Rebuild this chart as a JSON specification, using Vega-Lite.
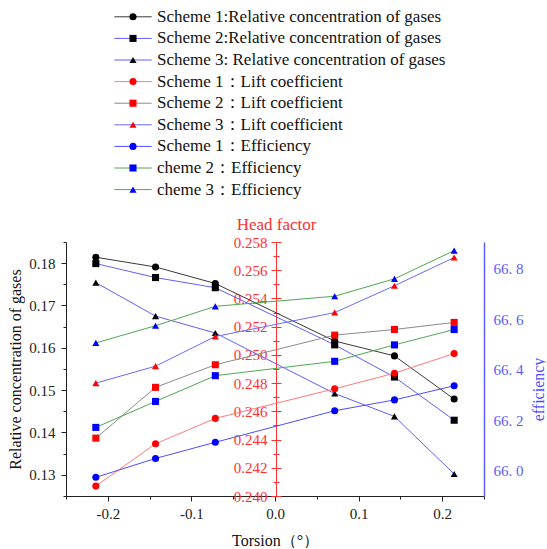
{
  "$schema": "https://vega.github.io/schema/vega-lite/v6.json",
  "padding": {"left": 7, "top": 6, "right": 0, "bottom": 0},
  "config": {
    "font": "Liberation Serif, Times New Roman, serif",
    "view": {"stroke": null},
    "text": {"font": "Liberation Serif, Times New Roman, serif"},
    "axis": {"labelFont": "Liberation Serif, Times New Roman, serif", "titleFont": "Liberation Serif, Times New Roman, serif", "labelFontSize": 15, "titleFontSize": 16, "titleFontWeight": "normal", "grid": false, "labelColor": "#222222", "titleColor": "#111111", "domainColor": "#222222", "tickColor": "#222222", "labelOverlap": false}
  },
  "datasets": {
    "legend": [
      {"series": "Scheme 1:Relative concentration of gases"},
      {"series": "Scheme 2:Relative concentration of gases"},
      {"series": "Scheme 3: Relative concentration of gases"},
      {"series": "Scheme 1：Lift coefficient"},
      {"series": "Scheme 2：Lift coefficient"},
      {"series": "Scheme 3：Lift coefficient"},
      {"series": "Scheme 1：Efficiency"},
      {"series": "cheme 2：Efficiency"},
      {"series": "cheme 3：Efficiency"}
    ],
    "pts": [
      {"series": "Scheme 1:Relative concentration of gases", "group": "gas", "t": -0.2143, "v": 0.1814},
      {"series": "Scheme 1:Relative concentration of gases", "group": "gas", "t": -0.1429, "v": 0.1791},
      {"series": "Scheme 1:Relative concentration of gases", "group": "gas", "t": -0.0714, "v": 0.1752},
      {"series": "Scheme 1:Relative concentration of gases", "group": "gas", "t": 0.0714, "v": 0.1616},
      {"series": "Scheme 1:Relative concentration of gases", "group": "gas", "t": 0.1429, "v": 0.1581},
      {"series": "Scheme 1:Relative concentration of gases", "group": "gas", "t": 0.2143, "v": 0.1479},
      {"series": "Scheme 2:Relative concentration of gases", "group": "gas", "t": -0.2143, "v": 0.1799},
      {"series": "Scheme 2:Relative concentration of gases", "group": "gas", "t": -0.1429, "v": 0.1766},
      {"series": "Scheme 2:Relative concentration of gases", "group": "gas", "t": -0.0714, "v": 0.1742},
      {"series": "Scheme 2:Relative concentration of gases", "group": "gas", "t": 0.0714, "v": 0.1607},
      {"series": "Scheme 2:Relative concentration of gases", "group": "gas", "t": 0.1429, "v": 0.1531},
      {"series": "Scheme 2:Relative concentration of gases", "group": "gas", "t": 0.2143, "v": 0.1429},
      {"series": "Scheme 3: Relative concentration of gases", "group": "gas", "t": -0.2143, "v": 0.1754},
      {"series": "Scheme 3: Relative concentration of gases", "group": "gas", "t": -0.1429, "v": 0.1675},
      {"series": "Scheme 3: Relative concentration of gases", "group": "gas", "t": -0.0714, "v": 0.1635},
      {"series": "Scheme 3: Relative concentration of gases", "group": "gas", "t": 0.0714, "v": 0.1492},
      {"series": "Scheme 3: Relative concentration of gases", "group": "gas", "t": 0.1429, "v": 0.1438},
      {"series": "Scheme 3: Relative concentration of gases", "group": "gas", "t": 0.2143, "v": 0.1302},
      {"series": "Scheme 1：Lift coefficient", "group": "lift", "t": -0.2143, "v": 0.2407},
      {"series": "Scheme 1：Lift coefficient", "group": "lift", "t": -0.1429, "v": 0.2437},
      {"series": "Scheme 1：Lift coefficient", "group": "lift", "t": -0.0714, "v": 0.2455},
      {"series": "Scheme 1：Lift coefficient", "group": "lift", "t": 0.0714, "v": 0.2476},
      {"series": "Scheme 1：Lift coefficient", "group": "lift", "t": 0.1429, "v": 0.2487},
      {"series": "Scheme 1：Lift coefficient", "group": "lift", "t": 0.2143, "v": 0.2501},
      {"series": "Scheme 2：Lift coefficient", "group": "lift", "t": -0.2143, "v": 0.2441},
      {"series": "Scheme 2：Lift coefficient", "group": "lift", "t": -0.1429, "v": 0.2477},
      {"series": "Scheme 2：Lift coefficient", "group": "lift", "t": -0.0714, "v": 0.2493},
      {"series": "Scheme 2：Lift coefficient", "group": "lift", "t": 0.0714, "v": 0.2514},
      {"series": "Scheme 2：Lift coefficient", "group": "lift", "t": 0.1429, "v": 0.2518},
      {"series": "Scheme 2：Lift coefficient", "group": "lift", "t": 0.2143, "v": 0.2523},
      {"series": "Scheme 3：Lift coefficient", "group": "lift", "t": -0.2143, "v": 0.2480},
      {"series": "Scheme 3：Lift coefficient", "group": "lift", "t": -0.1429, "v": 0.2492},
      {"series": "Scheme 3：Lift coefficient", "group": "lift", "t": -0.0714, "v": 0.2513},
      {"series": "Scheme 3：Lift coefficient", "group": "lift", "t": 0.0714, "v": 0.2530},
      {"series": "Scheme 3：Lift coefficient", "group": "lift", "t": 0.1429, "v": 0.2549},
      {"series": "Scheme 3：Lift coefficient", "group": "lift", "t": 0.2143, "v": 0.2569},
      {"series": "Scheme 1：Efficiency", "group": "eff", "t": -0.2143, "v": 65.974},
      {"series": "Scheme 1：Efficiency", "group": "eff", "t": -0.1429, "v": 66.049},
      {"series": "Scheme 1：Efficiency", "group": "eff", "t": -0.0714, "v": 66.113},
      {"series": "Scheme 1：Efficiency", "group": "eff", "t": 0.0714, "v": 66.238},
      {"series": "Scheme 1：Efficiency", "group": "eff", "t": 0.1429, "v": 66.281},
      {"series": "Scheme 1：Efficiency", "group": "eff", "t": 0.2143, "v": 66.337},
      {"series": "cheme 2：Efficiency", "group": "eff", "t": -0.2143, "v": 66.172},
      {"series": "cheme 2：Efficiency", "group": "eff", "t": -0.1429, "v": 66.275},
      {"series": "cheme 2：Efficiency", "group": "eff", "t": -0.0714, "v": 66.377},
      {"series": "cheme 2：Efficiency", "group": "eff", "t": 0.0714, "v": 66.434},
      {"series": "cheme 2：Efficiency", "group": "eff", "t": 0.1429, "v": 66.499},
      {"series": "cheme 2：Efficiency", "group": "eff", "t": 0.2143, "v": 66.560},
      {"series": "cheme 3：Efficiency", "group": "eff", "t": -0.2143, "v": 66.507},
      {"series": "cheme 3：Efficiency", "group": "eff", "t": -0.1429, "v": 66.575},
      {"series": "cheme 3：Efficiency", "group": "eff", "t": -0.0714, "v": 66.652},
      {"series": "cheme 3：Efficiency", "group": "eff", "t": 0.0714, "v": 66.692},
      {"series": "cheme 3：Efficiency", "group": "eff", "t": 0.1429, "v": 66.761},
      {"series": "cheme 3：Efficiency", "group": "eff", "t": 0.2143, "v": 66.873}
    ]
  },
  "spacing": 14,
  "vconcat": [
    {
      "width": 418,
      "height": 194.4,
      "data": {"name": "legend"},
      "encoding": {
        "y": {"field": "series", "type": "nominal", "sort": null, "axis": null, "scale": {"type": "point", "padding": 0.5}}
      },
      "layer": [
        {
          "mark": {"type": "rule", "strokeWidth": 1},
          "encoding": {
            "x": {"datum": 1.156, "type": "quantitative", "scale": {"domain": [0, 10], "nice": false, "zero": false}, "axis": null},
            "x2": {"datum": 2.05},
            "stroke": {"field": "series", "type": "nominal", "legend": null, "scale": {"domain": ["Scheme 1:Relative concentration of gases", "Scheme 2:Relative concentration of gases", "Scheme 3: Relative concentration of gases", "Scheme 1：Lift coefficient", "Scheme 2：Lift coefficient", "Scheme 3：Lift coefficient", "Scheme 1：Efficiency", "cheme 2：Efficiency", "cheme 3：Efficiency"], "range": ["#3a3a3a", "#5f5fff", "#5f5fff", "#ff7a7a", "#8a8a8a", "#6a6aff", "#4d4dff", "#50a850", "#50a850"]}}
          }
        },
        {
          "mark": {"type": "point", "filled": true, "size": 50, "opacity": 1, "strokeWidth": 0},
          "encoding": {
            "x": {"datum": 1.603, "type": "quantitative"},
            "fill": {"field": "series", "type": "nominal", "legend": null, "scale": {"domain": ["Scheme 1:Relative concentration of gases", "Scheme 2:Relative concentration of gases", "Scheme 3: Relative concentration of gases", "Scheme 1：Lift coefficient", "Scheme 2：Lift coefficient", "Scheme 3：Lift coefficient", "Scheme 1：Efficiency", "cheme 2：Efficiency", "cheme 3：Efficiency"], "range": ["#000000", "#000000", "#000000", "#ff0000", "#ff0000", "#ff0000", "#0000ff", "#0000ff", "#0000ff"]}},
            "shape": {"field": "series", "type": "nominal", "legend": null, "scale": {"domain": ["Scheme 1:Relative concentration of gases", "Scheme 2:Relative concentration of gases", "Scheme 3: Relative concentration of gases", "Scheme 1：Lift coefficient", "Scheme 2：Lift coefficient", "Scheme 3：Lift coefficient", "Scheme 1：Efficiency", "cheme 2：Efficiency", "cheme 3：Efficiency"], "range": ["circle", "square", "triangle-up", "circle", "square", "triangle-up", "circle", "square", "triangle-up"]}}
          }
        },
        {
          "mark": {"type": "text", "align": "left", "baseline": "middle", "fontSize": 17, "font": "Liberation Serif, Times New Roman, serif", "color": "#111111"},
          "encoding": {
            "x": {"datum": 2.177, "type": "quantitative"},
            "text": {"field": "series"}
          }
        }
      ]
    },
    {
      "width": 418,
      "height": 254,
      "data": {"name": "pts"},
      "encoding": {
        "x": {"field": "t", "type": "quantitative", "scale": {"domain": [-0.25, 0.25], "nice": false, "zero": false}, "axis": {"title": "Torsion（°）", "values": [-0.25, -0.2, -0.15, -0.1, -0.05, 0, 0.05, 0.1, 0.15, 0.2, 0.25], "labelExpr": "round(datum.value*100)%10==0 ? replace(format(datum.value,'.1f'),'\u2212','-') : ''", "tickSize": {"condition": {"test": "round(datum.value*100)%10==0", "value": 5}, "value": 3}, "labelPadding": 5, "titlePadding": 11, "labelFlush": false, "labelBound": false}}
      },
      "layer": [
        {
          "transform": [{"filter": "datum.group == 'gas'"}],
          "encoding": {
            "y": {"field": "v", "type": "quantitative", "scale": {"domain": [0.125, 0.185], "nice": false, "zero": false}, "axis": {"orient": "left", "title": "Relative concentration of gases", "values": [0.125, 0.13, 0.135, 0.14, 0.145, 0.15, 0.155, 0.16, 0.165, 0.17, 0.175, 0.18, 0.185], "labelExpr": "round(datum.value*1000)%10==0 ? format(datum.value,'.2f') : ''", "tickSize": {"condition": {"test": "round(datum.value*1000)%10==0", "value": 5}, "value": 3}, "labelPadding": 6, "titlePadding": 5}}
          },
          "layer": [
            {
              "mark": {"type": "line", "strokeWidth": 1},
              "encoding": {
                "stroke": {"field": "series", "type": "nominal", "legend": null, "scale": {"domain": ["Scheme 1:Relative concentration of gases", "Scheme 2:Relative concentration of gases", "Scheme 3: Relative concentration of gases", "Scheme 1：Lift coefficient", "Scheme 2：Lift coefficient", "Scheme 3：Lift coefficient", "Scheme 1：Efficiency", "cheme 2：Efficiency", "cheme 3：Efficiency"], "range": ["#3a3a3a", "#5f5fff", "#5f5fff", "#ff7a7a", "#8a8a8a", "#6a6aff", "#4d4dff", "#50a850", "#50a850"]}}
              }
            },
            {
              "mark": {"type": "point", "filled": true, "size": 50, "opacity": 1, "strokeWidth": 0},
              "encoding": {
                "fill": {"field": "series", "type": "nominal", "legend": null},
                "shape": {"field": "series", "type": "nominal", "legend": null}
              }
            }
          ]
        },
        {
          "transform": [{"filter": "datum.group == 'lift'"}],
          "encoding": {
            "y": {"field": "v", "type": "quantitative", "scale": {"domain": [0.24, 0.258], "nice": false, "zero": false}, "axis": {"orient": "left", "offset": -210, "title": "Head factor", "titleFontSize": 17, "titleColor": "#ff3030", "titleAngle": 0, "titleX": 0, "titleY": -18, "titleAlign": "center", "titleBaseline": "middle", "values": [0.24, 0.241, 0.242, 0.243, 0.244, 0.245, 0.246, 0.247, 0.248, 0.249, 0.25, 0.251, 0.252, 0.253, 0.254, 0.255, 0.256, 0.257, 0.258], "labelExpr": "round(datum.value*1000)%2==0 ? format(datum.value,'.3f') : ''", "tickSize": {"condition": {"test": "round(datum.value*1000)%2==0", "value": 5}, "value": 3}, "labelColor": "#ff3030", "tickColor": "#ff3030", "domainColor": "#ff3030", "labelPadding": 4, "labelBound": false}}
          },
          "layer": [
            {
              "mark": {"type": "line", "strokeWidth": 1},
              "encoding": {
                "stroke": {"field": "series", "type": "nominal", "legend": null}
              }
            },
            {
              "mark": {"type": "point", "filled": true, "size": 50, "opacity": 1, "strokeWidth": 0},
              "encoding": {
                "fill": {"field": "series", "type": "nominal", "legend": null},
                "shape": {"field": "series", "type": "nominal", "legend": null}
              }
            }
          ]
        },
        {
          "transform": [{"filter": "datum.group == 'eff'"}],
          "encoding": {
            "y": {"field": "v", "type": "quantitative", "scale": {"domain": [65.9, 66.907], "nice": false, "zero": false}, "axis": {"orient": "right", "title": "efficiency", "titleAngle": -90, "titleColor": "#4d4dff", "titleX": 54, "titleY": 147, "titleAlign": "center", "titleBaseline": "middle", "values": [66.0, 66.2, 66.4, 66.6, 66.8], "labelExpr": "replace(format(datum.value,'.1f'),'.','. ')", "ticks": false, "labelPadding": 9, "labelColor": "#5c5cff", "domainColor": "#5c5cff", "domainWidth": 1.5}}
          },
          "layer": [
            {
              "mark": {"type": "line", "strokeWidth": 1},
              "encoding": {
                "stroke": {"field": "series", "type": "nominal", "legend": null}
              }
            },
            {
              "mark": {"type": "point", "filled": true, "size": 50, "opacity": 1, "strokeWidth": 0},
              "encoding": {
                "fill": {"field": "series", "type": "nominal", "legend": null},
                "shape": {"field": "series", "type": "nominal", "legend": null}
              }
            }
          ]
        },
        {
          "transform": [{"filter": "datum.group == 'lift'"}],
          "mark": {"type": "point", "opacity": 0},
          "encoding": {
            "y": {"field": "v", "type": "quantitative", "scale": {"domain": [0.24, 0.258], "nice": false, "zero": false}, "axis": {"orient": "right", "offset": -208, "title": null, "labels": false, "values": [0.24, 0.241, 0.242, 0.243, 0.244, 0.245, 0.246, 0.247, 0.248, 0.249, 0.25, 0.251, 0.252, 0.253, 0.254, 0.255, 0.256, 0.257, 0.258], "tickSize": {"condition": {"test": "round(datum.value*1000)%2==0", "value": 5}, "value": 3}, "tickColor": "#ff3030", "domainColor": "#ff3030"}}
          }
        }
      ],
      "resolve": {"scale": {"y": "independent"}}
    }
  ]
}
